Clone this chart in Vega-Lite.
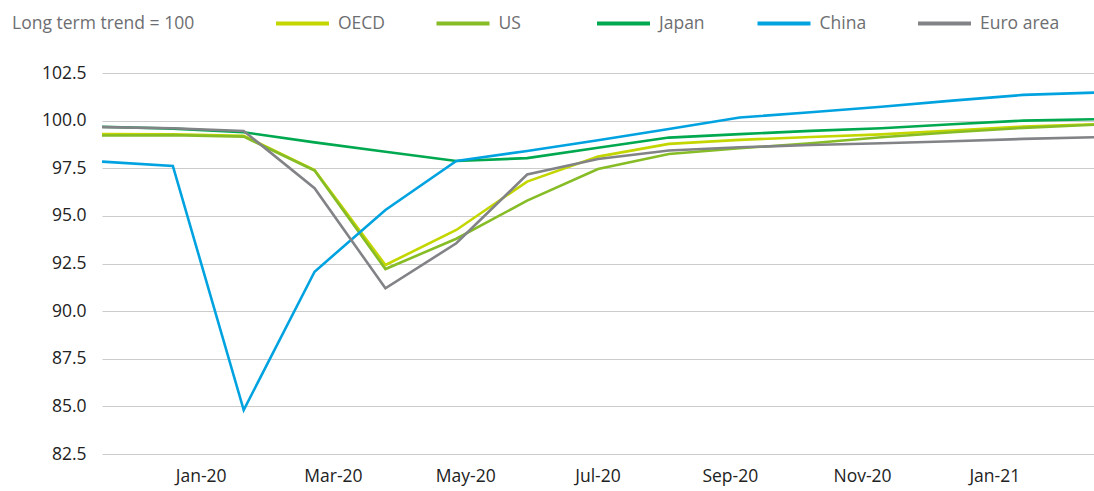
{
  "$schema": "https://vega.github.io/schema/vega-lite/v6.json",
  "width": 992,
  "height": 381,
  "autosize": {"type": "none"},
  "padding": {"left": 102, "top": 73, "right": 0, "bottom": 37},
  "config": {"view": {"stroke": null}, "font": "Open Sans"},
  "data": {
    "values": [
      {"month": "Dec-19", "series": "OECD", "value": 99.30},
      {"month": "Jan-20", "series": "OECD", "value": 99.28},
      {"month": "Feb-20", "series": "OECD", "value": 99.21},
      {"month": "Mar-20", "series": "OECD", "value": 97.41},
      {"month": "Apr-20", "series": "OECD", "value": 92.42},
      {"month": "May-20", "series": "OECD", "value": 94.26},
      {"month": "Jun-20", "series": "OECD", "value": 96.80},
      {"month": "Jul-20", "series": "OECD", "value": 98.11},
      {"month": "Aug-20", "series": "OECD", "value": 98.78},
      {"month": "Sep-20", "series": "OECD", "value": 98.99},
      {"month": "Oct-20", "series": "OECD", "value": 99.14},
      {"month": "Nov-20", "series": "OECD", "value": 99.28},
      {"month": "Dec-20", "series": "OECD", "value": 99.48},
      {"month": "Jan-21", "series": "OECD", "value": 99.69},
      {"month": "Feb-21", "series": "OECD", "value": 99.81},
      {"month": "Dec-19", "series": "US", "value": 99.22},
      {"month": "Jan-20", "series": "US", "value": 99.24},
      {"month": "Feb-20", "series": "US", "value": 99.16},
      {"month": "Mar-20", "series": "US", "value": 97.38},
      {"month": "Apr-20", "series": "US", "value": 92.21},
      {"month": "May-20", "series": "US", "value": 93.80},
      {"month": "Jun-20", "series": "US", "value": 95.80},
      {"month": "Jul-20", "series": "US", "value": 97.46},
      {"month": "Aug-20", "series": "US", "value": 98.25},
      {"month": "Sep-20", "series": "US", "value": 98.55},
      {"month": "Oct-20", "series": "US", "value": 98.81},
      {"month": "Nov-20", "series": "US", "value": 99.13},
      {"month": "Dec-20", "series": "US", "value": 99.39},
      {"month": "Jan-21", "series": "US", "value": 99.62},
      {"month": "Feb-21", "series": "US", "value": 99.78},
      {"month": "Dec-19", "series": "Japan", "value": 99.68},
      {"month": "Jan-20", "series": "Japan", "value": 99.58},
      {"month": "Feb-20", "series": "Japan", "value": 99.39},
      {"month": "Mar-20", "series": "Japan", "value": 98.86},
      {"month": "Apr-20", "series": "Japan", "value": 98.37},
      {"month": "May-20", "series": "Japan", "value": 97.88},
      {"month": "Jun-20", "series": "Japan", "value": 98.03},
      {"month": "Jul-20", "series": "Japan", "value": 98.58},
      {"month": "Aug-20", "series": "Japan", "value": 99.11},
      {"month": "Sep-20", "series": "Japan", "value": 99.29},
      {"month": "Oct-20", "series": "Japan", "value": 99.46},
      {"month": "Nov-20", "series": "Japan", "value": 99.60},
      {"month": "Dec-20", "series": "Japan", "value": 99.81},
      {"month": "Jan-21", "series": "Japan", "value": 100.00},
      {"month": "Feb-21", "series": "Japan", "value": 100.07},
      {"month": "Dec-19", "series": "China", "value": 97.85},
      {"month": "Jan-20", "series": "China", "value": 97.62},
      {"month": "Feb-20", "series": "China", "value": 84.81},
      {"month": "Mar-20", "series": "China", "value": 92.07},
      {"month": "Apr-20", "series": "China", "value": 95.31},
      {"month": "May-20", "series": "China", "value": 97.88},
      {"month": "Jun-20", "series": "China", "value": 98.41},
      {"month": "Jul-20", "series": "China", "value": 98.97},
      {"month": "Aug-20", "series": "China", "value": 99.56},
      {"month": "Sep-20", "series": "China", "value": 100.16},
      {"month": "Oct-20", "series": "China", "value": 100.44},
      {"month": "Nov-20", "series": "China", "value": 100.73},
      {"month": "Dec-20", "series": "China", "value": 101.05},
      {"month": "Jan-21", "series": "China", "value": 101.35},
      {"month": "Feb-21", "series": "China", "value": 101.47},
      {"month": "Dec-19", "series": "Euro area", "value": 99.66},
      {"month": "Jan-20", "series": "Euro area", "value": 99.60},
      {"month": "Feb-20", "series": "Euro area", "value": 99.46},
      {"month": "Mar-20", "series": "Euro area", "value": 96.45},
      {"month": "Apr-20", "series": "Euro area", "value": 91.20},
      {"month": "May-20", "series": "Euro area", "value": 93.56},
      {"month": "Jun-20", "series": "Euro area", "value": 97.17},
      {"month": "Jul-20", "series": "Euro area", "value": 97.99},
      {"month": "Aug-20", "series": "Euro area", "value": 98.43},
      {"month": "Sep-20", "series": "Euro area", "value": 98.60},
      {"month": "Oct-20", "series": "Euro area", "value": 98.72},
      {"month": "Nov-20", "series": "Euro area", "value": 98.81},
      {"month": "Dec-20", "series": "Euro area", "value": 98.92},
      {"month": "Jan-21", "series": "Euro area", "value": 99.04},
      {"month": "Feb-21", "series": "Euro area", "value": 99.13}
    ]
  },
  "layer": [
    {
      "mark": {"type": "line", "strokeWidth": 2.6},
      "encoding": {
        "x": {
          "field": "month",
          "type": "ordinal",
          "sort": ["Dec-19","Jan-20","Feb-20","Mar-20","Apr-20","May-20","Jun-20","Jul-20","Aug-20","Sep-20","Oct-20","Nov-20","Dec-20","Jan-21","Feb-21"],
          "scale": {"type": "point", "padding": 0},
          "axis": null
        },
        "y": {
          "field": "value",
          "type": "quantitative",
          "scale": {"domain": [82.5, 102.5], "nice": false, "zero": false},
          "axis": {
            "values": [82.5, 85, 87.5, 90, 92.5, 95, 97.5, 100, 102.5],
            "format": ".1f",
            "title": null,
            "domain": false,
            "ticks": false,
            "labelPadding": 16,
            "labelFontSize": 17.5,
            "labelColor": "#222222",
            "gridColor": "#cccccc",
            "gridWidth": 1.2
          }
        },
        "color": {
          "field": "series",
          "type": "nominal",
          "scale": {
            "domain": ["OECD", "US", "Japan", "China", "Euro area"],
            "range": ["#c4d600", "#86bc25", "#00a84f", "#00a3e0", "#818386"]
          },
          "legend": {
            "title": "Long term trend = 100",
            "orient": "none",
            "legendX": -90,
            "legendY": -78,
            "direction": "horizontal",
            "columns": 5,
            "gridAlign": "all",
            "titleOrient": "left",
            "titleBaseline": "line-top",
            "titleLineHeight": 20,
            "titleFontSize": 17.5,
            "titleFontWeight": "normal",
            "titleColor": "#6d6e71",
            "titleLimit": 400,
            "titlePadding": 79,
            "labelFontSize": 17.5,
            "labelColor": "#6d6e71",
            "labelLimit": 300,
            "labelOffset": 7,
            "symbolType": "stroke",
            "symbolSize": 2809,
            "symbolStrokeWidth": 4,
            "columnPadding": 10.5,
            "padding": 0
          }
        }
      }
    },
    {
      "mark": {"type": "rule", "strokeOpacity": 0},
      "encoding": {
        "x": {
          "field": "month",
          "type": "ordinal",
          "sort": ["Dec-19","Jan-20","Feb-20","Mar-20","Apr-20","May-20","Jun-20","Jul-20","Aug-20","Sep-20","Oct-20","Nov-20","Dec-20","Jan-21","Feb-21"],
          "scale": {"type": "band", "paddingInner": 0, "paddingOuter": 0},
          "axis": {
            "values": ["Jan-20", "Mar-20", "May-20", "Jul-20", "Sep-20", "Nov-20", "Jan-21"],
            "title": null,
            "domain": false,
            "ticks": false,
            "grid": false,
            "labelAngle": 0,
            "labelPadding": 13,
            "labelFontSize": 17.5,
            "labelColor": "#222222"
          }
        }
      }
    }
  ],
  "resolve": {"scale": {"x": "independent"}}
}
